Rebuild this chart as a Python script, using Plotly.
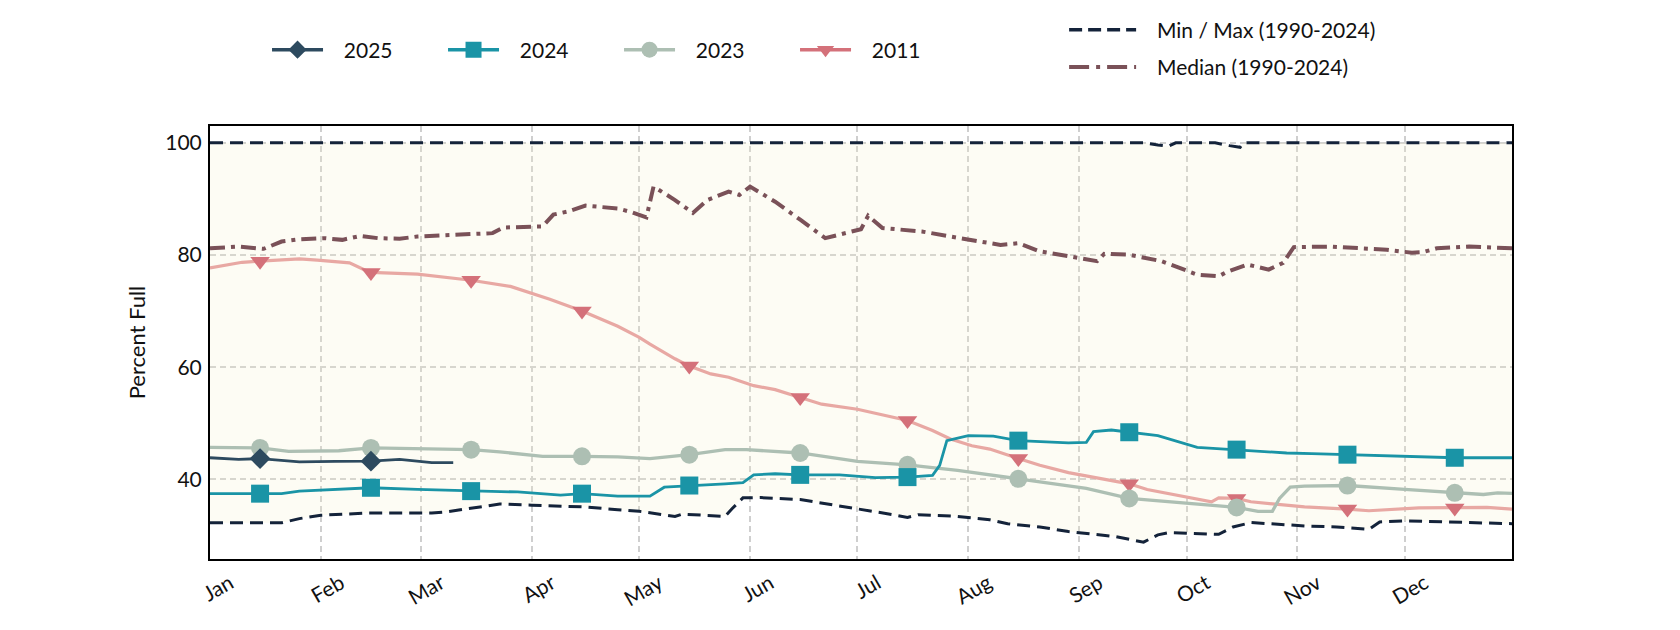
import pandas as pd
import plotly.graph_objects as go

MONTHS = ["Jan", "Feb", "Mar", "Apr", "May", "Jun", "Jul", "Aug", "Sep", "Oct", "Nov", "Dec"]
Y_TICKS = [40, 60, 80, 100]
MARKER_DAYS = [14, 45, 73, 104, 134, 165, 195, 226, 257, 287, 318, 348]

# day-of-year (0 = Jan 1) and percent full
max_days = [0, 261, 265, 268, 270, 281, 285, 288, 289, 364]
max_vals = [100, 100, 99.6, 99.4, 100, 100, 99.5, 99.2, 100, 100]

min_days = [0, 20, 25, 31, 44, 62, 66, 72, 81, 90, 104, 114, 120, 130, 132, 144, 146, 149, 154, 165, 172,
            181, 191, 195, 198, 209, 218, 223, 232, 240, 245, 253, 261, 265, 268, 282, 286, 291, 306, 315,
            324, 327, 334, 350, 364]
min_vals = [32.25, 32.25, 33.0, 33.6, 34.0, 34.0, 34.2, 34.8, 35.6, 35.4, 35.1, 34.6, 34.3, 33.4, 33.8,
            33.4, 34.8, 36.7, 36.75, 36.4, 35.7, 34.8, 33.7, 33.2, 33.7, 33.4, 32.8, 32.1, 31.5, 30.7, 30.4,
            29.8, 28.8, 30.1, 30.5, 30.2, 31.5, 32.3, 31.7, 31.5, 31.1, 32.4, 32.6, 32.4, 32.1]

median_days = [0, 8, 15, 20, 25, 32, 37, 42, 47, 53, 58, 72, 77, 79, 82, 93, 96, 100, 105, 114, 118, 122,
               124, 130, 135, 139, 145, 148, 151, 158, 165, 172, 182, 184, 188, 199, 206, 221, 226, 232,
               240, 245, 248, 250, 257, 266, 272, 276, 282, 284, 290, 296, 300, 303, 313, 320, 329, 336,
               339, 343, 352, 364]
median_vals = [81.2, 81.5, 81.1, 82.4, 82.8, 83.0, 82.7, 83.4, 83.0, 82.9, 83.3, 83.6, 83.8, 83.9, 84.9,
               85.1, 87.2, 87.75, 88.8, 88.3, 87.6, 86.7, 92.2, 89.8, 87.5, 89.8, 91.3, 90.7, 92.2, 89.5,
               86.3, 83.0, 84.6, 87.0, 84.8, 84.2, 83.4, 81.8, 82.1, 80.65, 79.8, 79.3, 78.9, 80.2, 80.05,
               78.9, 77.4, 76.5, 76.2, 76.9, 78.3, 77.4, 78.6, 81.4, 81.5, 81.2, 80.95, 80.4, 80.5, 81.2,
               81.5, 81.2]

y2011_days = [0, 9, 14, 25, 30, 39, 44, 45, 58, 73, 84, 95, 104, 114, 120, 123, 130, 134, 140, 145, 152,
              158, 165, 171, 181, 195, 202, 207, 213, 218, 226, 232, 240, 250, 257, 262, 268, 278, 280,
              282, 285, 287, 291, 296, 306, 318, 324, 338, 348, 357, 364]
y2011_vals = [77.7, 78.7, 78.9, 79.3, 79.1, 78.6, 77.1, 76.9, 76.6, 75.5, 74.4, 72.1, 70.0, 67.3, 65.3,
              64.1, 61.5, 60.2, 58.8, 58.2, 56.7, 56.0, 54.6, 53.4, 52.5, 50.5, 48.7, 47.2, 46.0, 45.4,
              43.7, 42.5, 41.2, 40.1, 39.2, 38.2, 37.45, 36.3, 36.0, 36.7, 36.6, 36.6, 36.0, 35.7, 35.1,
              34.7, 34.4, 34.9, 34.9, 35.0, 34.7]

y2023_days = [0, 14, 22, 30, 36, 45, 58, 73, 81, 93, 104, 114, 123, 134, 144, 150, 165, 172, 181, 195,
              209, 226, 240, 245, 257, 268, 278, 287, 293, 297, 299, 302, 306, 318, 334, 348, 356, 360, 364]
y2023_vals = [45.7, 45.6, 45.0, 45.1, 45.1, 45.6, 45.4, 45.3, 44.9, 44.1, 44.1, 44.0, 43.7, 44.4, 45.3,
              45.3, 44.7, 44.0, 43.2, 42.6, 41.6, 40.1, 38.9, 38.4, 36.6, 36.0, 35.4, 35.0, 34.3, 34.3,
              36.6, 38.6, 38.8, 38.9, 38.2, 37.6, 37.3, 37.6, 37.5]

y2024_days = [0, 14, 20, 25, 35, 45, 58, 73, 86, 98, 104, 114, 123, 127, 134, 144, 149, 152, 158, 165,
              176, 186, 195, 202, 204, 206, 212, 219, 226, 240, 245, 247, 252, 257, 265, 276, 287, 301,
              308, 318, 334, 348, 364]
y2024_vals = [37.45, 37.45, 37.45, 37.9, 38.2, 38.5, 38.2, 37.9, 37.75, 37.2, 37.45, 37.0, 37.0, 38.6,
              38.9, 39.2, 39.4, 40.8, 41.0, 40.8, 40.8, 40.3, 40.4, 40.7, 42.5, 46.9, 47.8, 47.7, 46.9,
              46.5, 46.6, 48.5, 48.8, 48.4, 47.8, 45.7, 45.3, 44.7, 44.6, 44.4, 44.0, 43.85, 43.85]

y2025_days = [0, 8, 14, 25, 35, 45, 53, 62, 68]
y2025_vals = [43.85, 43.55, 43.7, 43.1, 43.2, 43.25, 43.55, 43.0, 43.0]

FONT = "Lato"
BASE = pd.Timestamp("2001-01-01")


def to_dates(days):
    return [BASE + pd.Timedelta(days=int(d)) for d in days]


def marker_subset(days, vals):
    pairs = [(d, v) for d, v in zip(days, vals) if d in MARKER_DAYS]
    return to_dates([p[0] for p in pairs]), [p[1] for p in pairs]


fig = go.Figure()

# envelope: max then min with fill between
fig.add_trace(go.Scatter(x=to_dates(max_days), y=max_vals, mode="lines",
                         line=dict(color="#14233a", width=3, dash="13px,7px"),
                         showlegend=False, hoverinfo="skip"))
fig.add_trace(go.Scatter(x=to_dates(min_days), y=min_vals, mode="lines", fill="tonexty",
                         fillcolor="rgba(246,243,205,0.22)",
                         line=dict(color="#14233a", width=3, dash="13px,7px"),
                         showlegend=False, hoverinfo="skip"))
fig.add_trace(go.Scatter(x=to_dates(median_days), y=median_vals, mode="lines",
                         line=dict(color="#7a5158", width=4, dash="15px,6px,4px,6px"),
                         showlegend=False, hoverinfo="skip"))

series = [
    ("2011", y2011_days, y2011_vals, "#e8a8a3", "#d4717a", "triangle-down", 17, 3.2),
    ("2023", y2023_days, y2023_vals, "#adbfb3", "#adbfb3", "circle", 18, 3.3),
    ("2024", y2024_days, y2024_vals, "#1a94a6", "#1a94a6", "square", 18, 2.8),
    ("2025", y2025_days, y2025_vals, "#2d4a5f", "#2d4a5f", "diamond", 16, 2.8),
]
for name, d, v, lc, mc, sym, ms, lw in series:
    fig.add_trace(go.Scatter(x=to_dates(d), y=v, mode="lines", line=dict(color=lc, width=lw),
                             showlegend=False, hoverinfo="skip"))
    mx, my = marker_subset(d, v)
    fig.add_trace(go.Scatter(x=mx, y=my, mode="markers",
                             marker=dict(symbol=sym, size=ms, color=mc, line=dict(width=0)),
                             showlegend=False, hoverinfo="skip"))

# legend entries (a leading em/en space adds the gap between symbol and text)
for name, d, v, lc, mc, sym, ms, lw in series[::-1]:
    fig.add_trace(go.Scatter(x=[None], y=[None], mode="lines+markers", name="\u2003" + name,
                             line=dict(color=mc, width=3.5), marker=dict(symbol=sym, size=ms - 2, color=mc),
                             legend="legend"))
fig.add_trace(go.Scatter(x=[None], y=[None], mode="lines", name="\u2002\u00a0Min / Max (1990-2024)",
                         line=dict(color="#14233a", width=3.5, dash="13px,6px"), legend="legend2",
                         legendgroup="a"))
fig.add_trace(go.Scatter(x=[None], y=[None], mode="lines", name="\u2002\u00a0Median (1990-2024)",
                         line=dict(color="#7a5158", width=4, dash="20px,7px,4px,7px"), legend="legend2",
                         legendgroup="b"))

month_starts = [BASE + pd.DateOffset(months=i) for i in range(12)]

# page body adds an 8px offset, so the figure is sized to fit inside the 1680x630 window
fig.update_layout(
    width=1664, height=614,
    margin=dict(l=202, r=160, t=118, b=61),
    paper_bgcolor="white", plot_bgcolor="white",
    font=dict(family=FONT, size=21, color="#111111"),
    legend=dict(orientation="h", x=0.0438, y=0.9316, yref="container", xanchor="left", yanchor="middle",
                entrywidth=110, itemwidth=51, traceorder="normal",
                bgcolor="rgba(0,0,0,0)", font=dict(size=21)),
    legend2=dict(orientation="v", x=0.656, y=0.934, yref="container", xanchor="left", yanchor="middle",
                 itemwidth=67, tracegroupgap=7, traceorder="grouped",
                 bgcolor="rgba(0,0,0,0)", font=dict(size=21)),
    showlegend=True,
)
fig.update_xaxes(
    type="date", range=[BASE, BASE + pd.Timedelta(days=364)],
    tickvals=month_starts, ticktext=MONTHS, tickangle=-30,
    showgrid=True, gridcolor="#cfcfcf", gridwidth=1.5, griddash="6px,4px",
    showline=True, linecolor="black", linewidth=2, mirror=True,
    ticks="", ticklabelstandoff=2, ticklabelshift=20, tickfont=dict(size=21), zeroline=False,
)
fig.update_yaxes(
    range=[25.8, 103.0], tickvals=Y_TICKS, ticktext=[str(t) for t in Y_TICKS],
    showgrid=True, gridcolor="#cfcfcf", gridwidth=1.5, griddash="6px,4px",
    showline=True, linecolor="black", linewidth=2, mirror=True,
    ticks="", ticklabelstandoff=2, tickfont=dict(size=21), zeroline=False,
    title=dict(text="Percent Full", font=dict(size=22), standoff=14),
)

fig.write_html("out.html")
